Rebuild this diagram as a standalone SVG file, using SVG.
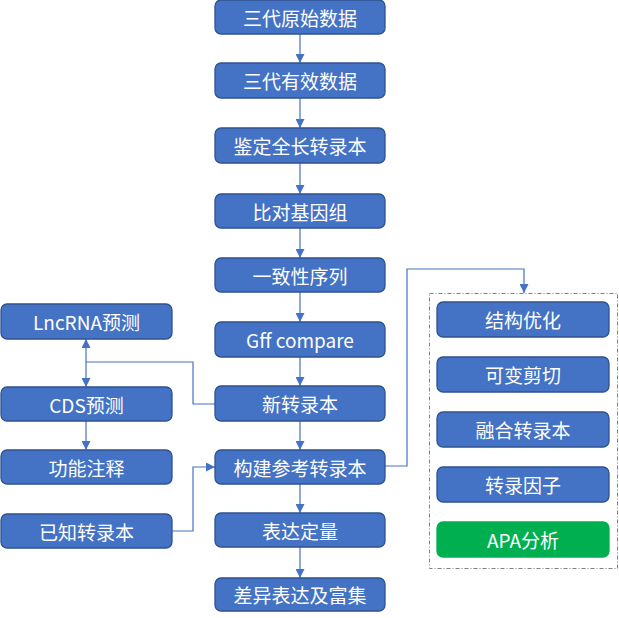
<svg xmlns="http://www.w3.org/2000/svg" width="619" height="618" viewBox="0 0 619 618">
<defs>
<marker id="ah" viewBox="0 0 10 10" refX="10" refY="5" markerWidth="9" markerHeight="9" markerUnits="userSpaceOnUse" orient="auto-start-reverse">
<path d="M0,0 L10,5 L0,10 z" fill="#4472C4"/>
</marker>
<style>
.b{fill:#4472C4;stroke:#2F528F;stroke-width:1.3}
.g{fill:#00B050;stroke:#00B050;stroke-width:1.3}
.t{fill:#fff;font-family:"Noto Sans CJK SC","Noto Sans",sans-serif;font-size:19px;text-anchor:middle;dominant-baseline:central}
.c{fill:none;stroke:#4472C4;stroke-width:1.2}
</style>
</defs>
<rect x="429.5" y="293.5" width="188" height="275" fill="none" stroke="#7F7F7F" stroke-width="1" stroke-dasharray="4,2,1,2"/>
<g id="connectors">
<path class="c" d="M300,34 V63" marker-end="url(#ah)"/>
<path class="c" d="M300,98 V128" marker-end="url(#ah)"/>
<path class="c" d="M300,163 V194" marker-end="url(#ah)"/>
<path class="c" d="M300,228 V258" marker-end="url(#ah)"/>
<path class="c" d="M300,292 V322" marker-end="url(#ah)"/>
<path class="c" d="M300,357 V386" marker-end="url(#ah)"/>
<path class="c" d="M300,421 V450" marker-end="url(#ah)"/>
<path class="c" d="M300,484 V513" marker-end="url(#ah)"/>
<path class="c" d="M300,547 V578" marker-end="url(#ah)"/>
<path class="c" d="M215,404 H193 V362 H86"/>
<path class="c" d="M86,339 V387" marker-start="url(#ah)" marker-end="url(#ah)"/>
<path class="c" d="M86,421 V450" marker-end="url(#ah)"/>
<path class="c" d="M172,531 H193 V467 H215" marker-end="url(#ah)"/>
<path class="c" d="M385,466 H407 V269 H524 V293" marker-end="url(#ah)"/>
</g>
<g id="n1"><rect class="b" x="215" y="0" width="170" height="34" rx="6"/><text class="t" x="300" y="17">三代原始数据</text></g>
<g id="n2"><rect class="b" x="215" y="63" width="170" height="35" rx="6"/><text class="t" x="300" y="80.5">三代有效数据</text></g>
<g id="n3"><rect class="b" x="215" y="128" width="170" height="35" rx="6"/><text class="t" x="300" y="145.5">鉴定全长转录本</text></g>
<g id="n4"><rect class="b" x="215" y="194" width="170" height="34" rx="6"/><text class="t" x="300" y="211">比对基因组</text></g>
<g id="n5"><rect class="b" x="215" y="258" width="170" height="34" rx="6"/><text class="t" x="300" y="275">一致性序列</text></g>
<g id="n6"><rect class="b" x="215" y="322" width="170" height="35" rx="6"/><text class="t" x="300" y="339.5">Gff compare</text></g>
<g id="n7"><rect class="b" x="215" y="386" width="170" height="35" rx="6"/><text class="t" x="300" y="403.5">新转录本</text></g>
<g id="n8"><rect class="b" x="215" y="450" width="170" height="34" rx="6"/><text class="t" x="300" y="467">构建参考转录本</text></g>
<g id="n9"><rect class="b" x="215" y="513" width="170" height="34" rx="6"/><text class="t" x="300" y="530">表达定量</text></g>
<g id="n10"><rect class="b" x="215" y="578" width="170" height="33" rx="6"/><text class="t" x="300" y="594.5">差异表达及富集</text></g>
<g id="l1"><rect class="b" x="1" y="304" width="171" height="35" rx="6"/><text class="t" x="86.5" y="321.5">LncRNA预测</text></g>
<g id="l2"><rect class="b" x="1" y="387" width="171" height="34" rx="6"/><text class="t" x="86.5" y="404">CDS预测</text></g>
<g id="l3"><rect class="b" x="1" y="450" width="171" height="34" rx="6"/><text class="t" x="86.5" y="467">功能注释</text></g>
<g id="l4"><rect class="b" x="1" y="514" width="171" height="34" rx="6"/><text class="t" x="86.5" y="531">已知转录本</text></g>
<g id="r1"><rect class="b" x="437" y="302" width="172" height="35" rx="6"/><text class="t" x="523" y="319.5">结构优化</text></g>
<g id="r2"><rect class="b" x="437" y="357" width="172" height="35" rx="6"/><text class="t" x="523" y="374.5">可变剪切</text></g>
<g id="r3"><rect class="b" x="437" y="412" width="172" height="35" rx="6"/><text class="t" x="523" y="429.5">融合转录本</text></g>
<g id="r4"><rect class="b" x="437" y="467" width="172" height="35" rx="6"/><text class="t" x="523" y="484.5">转录因子</text></g>
<g id="r5"><rect class="g" x="437" y="522" width="172" height="35" rx="6"/><text class="t" x="523" y="539.5">APA分析</text></g>
</svg>
